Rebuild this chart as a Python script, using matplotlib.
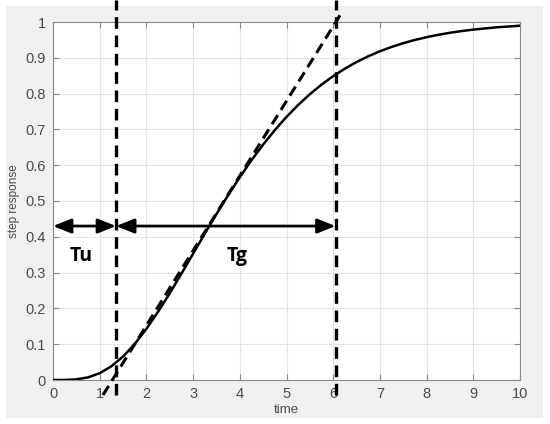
import matplotlib
matplotlib.use("Agg")
import matplotlib.pyplot as plt
from matplotlib.patches import Rectangle

# Step response
time = [0, 0.25, 0.5, 0.75, 1.0, 1.25, 1.5, 1.75, 2.0, 2.25, 2.5, 2.75, 3.0,
        3.25, 3.5, 3.75, 4.0, 4.25, 4.5, 4.75, 5.0, 5.25, 5.5, 5.75, 6.0,
        6.25, 6.5, 6.75, 7.0, 7.25, 7.5, 7.75, 8.0, 8.25, 8.5, 8.75,
        9.0, 9.5, 10.0]
response = [0.0, 0.0001, 0.0018, 0.0073, 0.019, 0.0383, 0.0656, 0.1007,
            0.1429, 0.1906, 0.2424, 0.2969, 0.3528, 0.4086, 0.4634, 0.5162,
            0.5665, 0.6138, 0.6577, 0.6981, 0.735, 0.7683, 0.7983, 0.8251,
            0.8488, 0.8697, 0.8882, 0.9042, 0.9182, 0.9304, 0.9409, 0.9499,
            0.9576, 0.9642, 0.9699, 0.9747, 0.9788, 0.9851, 0.9897]

# Tangent line end points
tangent_t = [1.07, 6.2]
tangent_y = [-0.042, 1.03]

# Vertical markers and arrows
tu_end = 1.35
tg_end = 6.05
arrow_y = 0.43
labels = ["Tu", "Tg"]
label_pos = [(0.6, 0.345), (3.95, 0.345)]

xticks = list(range(0, 11))
yticks = [0, 0.1, 0.2, 0.3, 0.4, 0.5, 0.6, 0.7, 0.8, 0.9, 1]
ytick_labels = ["0", "0.1", "0.2", "0.3", "0.4", "0.5", "0.6", "0.7", "0.8", "0.9", "1"]

plt.rcParams['font.family'] = ['Liberation Sans', 'DejaVu Sans']

fig = plt.figure(figsize=(5.5, 4.24), dpi=100)
fig.patch.set_facecolor('white')
fig.patches.append(Rectangle((6/550, 6/424), 537/550, 412/424, transform=fig.transFigure,
                             facecolor='#f0f0f0', edgecolor='none', zorder=-10))

ax = fig.add_axes([53/550, 44/424, 467/550, 358/424])
ax.set_facecolor('white')
ax.set_xlim(0, 10)
ax.set_ylim(0, 1)
ax.set_xticks(xticks)
ax.set_yticks(yticks)
ax.set_yticklabels(ytick_labels)
ax.grid(True, color='#e3e3e3', linewidth=0.8)
ax.set_axisbelow(True)
for s in ax.spines.values():
    s.set_color('#8a8a8a')
    s.set_linewidth(0.8)
ax.tick_params(direction='in', length=4, color='#8a8a8a', labelsize=10.5,
               labelcolor='#4a4a4a', top=True, right=True, pad=5)
ax.set_xlabel('time', fontsize=9.5, color='#4a4a4a', labelpad=2)
ax.set_ylabel('step response', fontsize=8.5, color='#4a4a4a', labelpad=4)

ax.plot(time, response, color='black', lw=1.8, zorder=5)

dash = (3.5, 2.0)
ax.plot(tangent_t, tangent_y, color='black', lw=2.2, linestyle=(0, dash),
        clip_on=False, zorder=6)
for xv in [tu_end, tg_end]:
    ax.plot([xv, xv], [-0.042, 1.062], color='black', lw=2.4, linestyle=(0, dash),
            clip_on=False, zorder=6)

arrowprops = dict(arrowstyle='<|-|>,head_length=0.55,head_width=0.22', color='black',
                  lw=2, mutation_scale=20, shrinkA=0, shrinkB=0)
ax.annotate('', xy=(0, arrow_y), xytext=(tu_end, arrow_y), arrowprops=arrowprops, zorder=7)
ax.annotate('', xy=(tu_end, arrow_y), xytext=(tg_end, arrow_y), arrowprops=arrowprops, zorder=7)

for lab, (lx, ly) in zip(labels, label_pos):
    ax.text(lx, ly, lab, fontsize=14, fontweight='bold', ha='center', va='center',
            family=['Open Sans', 'DejaVu Sans'])

fig.savefig('out.png', dpi=100, facecolor=fig.get_facecolor())
